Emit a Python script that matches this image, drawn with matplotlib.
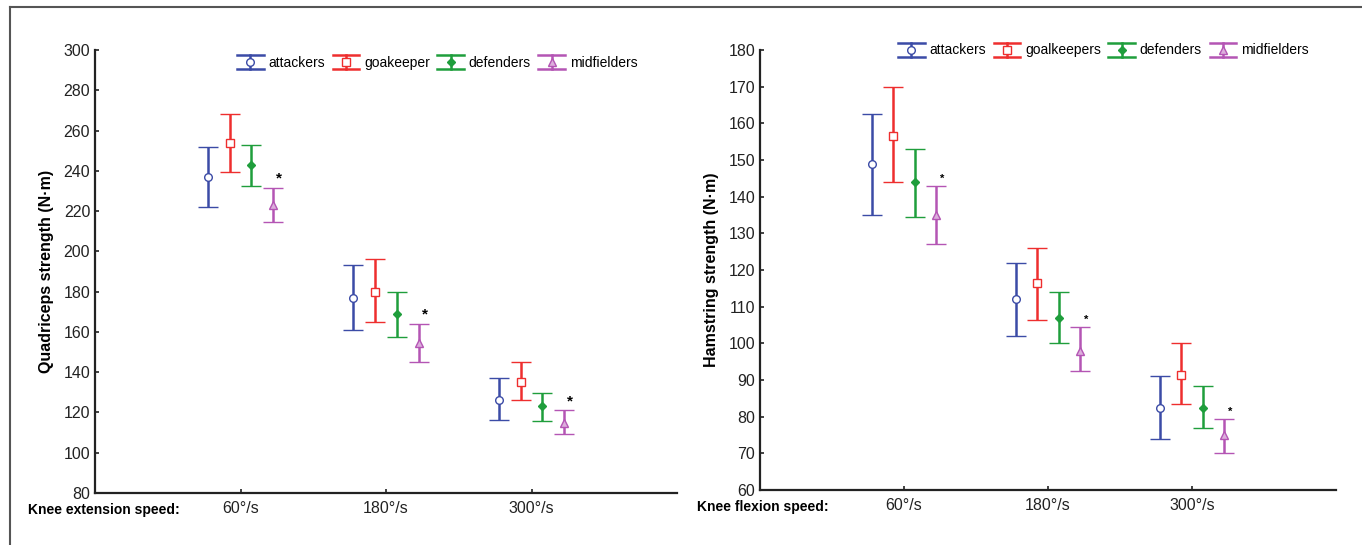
import matplotlib.pyplot as plt
from matplotlib.legend_handler import HandlerBase
from matplotlib.lines import Line2D

plt.rcParams['font.family'] = ['Liberation Sans', 'DejaVu Sans']

speeds = ['60°/s', '180°/s', '300°/s']

# quadriceps (knee extension): mean, upper, lower for each speed
quad_groups = ['attackers', 'goakeeper', 'defenders', 'midfielders']
quad_mean = {
    'attackers': [237, 177, 126],
    'goakeeper': [254, 180, 135],
    'defenders': [243, 169, 123],
    'midfielders': [223, 154.5, 115],
}
quad_hi = {
    'attackers': [252, 193, 137],
    'goakeeper': [268, 196, 145],
    'defenders': [253, 180, 129.5],
    'midfielders': [231.5, 164, 121],
}
quad_lo = {
    'attackers': [222, 161, 116.5],
    'goakeeper': [239.5, 165, 126],
    'defenders': [232.5, 157.5, 116],
    'midfielders': [214.5, 145, 109.5],
}

# hamstring (knee flexion)
ham_groups = ['attackers', 'goalkeepers', 'defenders', 'midfielders']
ham_mean = {
    'attackers': [149, 112, 82.5],
    'goalkeepers': [156.5, 116.5, 91.5],
    'defenders': [144, 107, 82.5],
    'midfielders': [135, 98, 75],
}
ham_hi = {
    'attackers': [162.5, 122, 91],
    'goalkeepers': [170, 126, 100],
    'defenders': [153, 114, 88.5],
    'midfielders': [143, 104.5, 79.5],
}
ham_lo = {
    'attackers': [135, 102, 74],
    'goalkeepers': [144, 106.5, 83.5],
    'defenders': [134.5, 100, 77],
    'midfielders': [127, 92.5, 70],
}

colors = ['#3b4ba6', '#ee2e2e', '#1f9e3c', '#b455b4']
markers = [('o', 'none'), ('s', 'none'), ('D', 'full'), ('^', 'light')]
offsets = [-0.225, -0.075, 0.075, 0.225]


def face(color, fill):
    if fill == 'full':
        return color
    if fill == 'light':
        return '#dcaedc'
    return 'white'


class HandlerCapped(HandlerBase):
    # vertical bar with wide caps and the marker in the middle
    def __init__(self, color, marker, fill):
        super().__init__()
        self.color = color
        self.marker = marker
        self.fill = fill

    def create_artists(self, legend, orig_handle, xdescent, ydescent,
                       width, height, fontsize, trans):
        x0, y0 = -xdescent, -ydescent
        cx = x0 + width / 2
        lw = 1.8
        arts = [
            Line2D([cx, cx], [y0, y0 + height], color=self.color, lw=lw),
            Line2D([x0, x0 + width], [y0, y0], color=self.color, lw=lw),
            Line2D([x0, x0 + width], [y0 + height, y0 + height], color=self.color, lw=lw),
        ]
        m = Line2D([cx], [y0 + height / 2], marker=self.marker, color=self.color,
                   markersize=5.5 if self.marker != 'D' else 4,
                   markerfacecolor=face(self.color, self.fill),
                   mew=1.0, linestyle='none')
        arts.append(m)
        for a in arts:
            a.set_transform(trans)
        return arts


def draw_panel(ax, groups, mean, hi, lo, ylim, yticks, ylabel, xlabel,
               star_size, leg_anchor, xlabel_x):
    handles = []
    handler_map = {}
    for i, g in enumerate(groups):
        xs = [k + 1 + offsets[i] for k in range(len(speeds))]
        err_lo = [m - l for m, l in zip(mean[g], lo[g])]
        err_hi = [h - m for m, h in zip(mean[g], hi[g])]
        mk, fill = markers[i]
        ax.errorbar(xs, mean[g], yerr=[err_lo, err_hi], fmt=mk, color=colors[i],
                    ecolor=colors[i], elinewidth=1.8, capsize=7.5, capthick=1.8,
                    markersize=5.5 if mk != 'D' else 4,
                    markerfacecolor=face(colors[i], fill),
                    markeredgewidth=1.0)
        h = Line2D([], [], label=g)
        handles.append(h)
        handler_map[h] = HandlerCapped(colors[i], mk, fill)
    # significance marks above the midfielders
    for k in range(len(speeds)):
        ax.annotate('*', xy=(k + 1 + offsets[3] + 0.04, hi[groups[3]][k]),
                    xytext=(0, 1.5), textcoords='offset points',
                    ha='center', va='bottom', fontsize=star_size, fontweight='bold')

    ax.set_xlim(0, 4)
    ax.set_ylim(*ylim)
    ax.set_yticks(yticks)
    ax.set_xticks([1, 2, 3])
    ax.set_xticklabels(speeds)
    ax.tick_params(direction='in', length=3, width=1.2, labelsize=11.5,
                   colors='#222222')
    ax.tick_params(axis='x', pad=6)
    for s in ['top', 'right']:
        ax.spines[s].set_visible(False)
    for s in ['left', 'bottom']:
        ax.spines[s].set_linewidth(1.6)
        ax.spines[s].set_color('#222222')
    ax.set_ylabel(ylabel, fontsize=11.5, fontweight='bold', labelpad=7)
    ax.annotate(xlabel, xy=(xlabel_x, 0), xycoords='axes fraction',
                xytext=(0, -7), textcoords='offset points',
                ha='left', va='top', fontsize=10, fontweight='bold')
    ax.legend(handles=handles, handler_map=handler_map, loc='center',
              bbox_to_anchor=leg_anchor, ncol=4, frameon=False, fontsize=10,
              handlelength=1.9, handleheight=1.2, handletextpad=0.35,
              columnspacing=0.55)


fig = plt.figure(figsize=(13.62, 5.45), dpi=100)
ax1 = fig.add_axes([95 / 1362, 1 - 493 / 545, 582 / 1362, 443 / 545])
ax2 = fig.add_axes([760 / 1362, 1 - 490 / 545, 576 / 1362, 440 / 545])

draw_panel(ax1, quad_groups, quad_mean, quad_hi, quad_lo, (80, 300),
           range(80, 301, 20), 'Quadriceps strength (N·m)',
           'Knee extension speed:', 11, (0.588, 0.972), -0.115)
draw_panel(ax2, ham_groups, ham_mean, ham_hi, ham_lo, (60, 180),
           range(60, 181, 10), 'Hamstring strength (N·m)',
           'Knee flexion speed:', 8, (0.596, 1.0), -0.109)

# outer frame lines of the figure
fig.add_artist(Line2D([10 / 1362, 1], [1 - 7 / 545, 1 - 7 / 545], color='#555555', lw=1.5))
fig.add_artist(Line2D([10 / 1362, 10 / 1362], [0, 1 - 7 / 545], color='#555555', lw=1.5))

fig.savefig('out.png', dpi=100)
